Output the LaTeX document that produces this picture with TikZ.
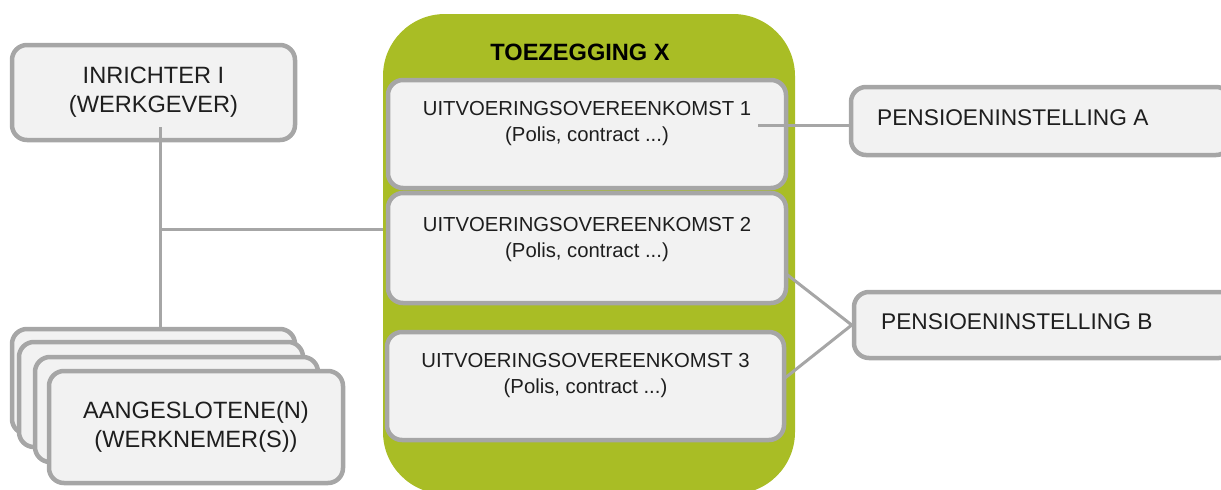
\documentclass[tikz,border=0pt]{standalone}
\usepackage{fontspec}
\setmainfont{Liberation Sans}
\definecolor{grn}{HTML}{A9BD25}
\definecolor{bgray}{HTML}{A6A6A6}
\definecolor{bfill}{HTML}{F2F2F2}
\definecolor{txt}{HTML}{1E1E1E}
\tikzset{
  box/.style={draw=bgray, line width=4.5pt, fill=bfill, rounded corners=15pt, inner sep=0pt, rectangle},
  conn/.style={draw=bgray, line width=3pt},
  bigtxt/.style={text=txt, align=center, font=\fontsize{23.6}{29}\selectfont},
  midtxt/.style={text=txt, align=center, font=\fontsize{20.3}{26}\selectfont},
  pentxt/.style={text=txt, anchor=west, inner sep=0pt, font=\fontsize{22.7}{27}\selectfont},
}
\begin{document}
\begin{tikzpicture}[x=1pt,y=-1pt]
\useasboundingbox (0,0) rectangle (1221,490);
\clip (0,0) rectangle (1221,490);
% green container
\node[fill=grn, rounded corners=62pt, minimum width=412pt, minimum height=480pt, inner sep=0pt] (tz) at (589,254) {};
\node[text=black, font=\fontsize{23.6}{28}\bfseries\selectfont] (title) at (580,52) {TOEZEGGING X};
% inner boxes
\node[box, minimum width=398pt, minimum height=108pt] (u1) at (587,134) {};
\node[box, minimum width=398pt, minimum height=110pt] (u2) at (587,248) {};
\node[box, minimum width=397pt, minimum height=108pt] (u3) at (585.5,386) {};
\node[midtxt] (t1) at (587,123.5) {UITVOERINGSOVEREENKOMST 1\\(Polis, contract ...)};
\node[midtxt] (t2) at (587,240) {UITVOERINGSOVEREENKOMST 2\\(Polis, contract ...)};
\node[midtxt] (t3) at (585.5,375.5) {UITVOERINGSOVEREENKOMST 3\\(Polis, contract ...)};
% left side
\node[box, minimum width=283pt, minimum height=95pt, bigtxt] (inr) at (153.5,92.5) {INRICHTER I\\(WERKGEVER)};
\node[box, minimum width=283pt, minimum height=105pt] (sa) at (153.5,381.5) {};
\node[box, minimum width=284pt, minimum height=105pt] (sb) at (161,394.5) {};
\node[box, minimum width=283pt, minimum height=105pt] (sc) at (176.5,409.5) {};
\node[box, minimum width=294pt, minimum height=112pt, bigtxt] (sd) at (196,427) {AANGESLOTENE(N)\\(WERKNEMER(S))};
% right side
\node[box, minimum width=380pt, minimum height=68pt] (pa) at (1041,121) {};
\node[pentxt] (pat) at (877,118) {PENSIOENINSTELLING A};
\node[box, minimum width=380pt, minimum height=66pt] (pb) at (1044,325) {};
\node[pentxt] (pbt) at (881,322) {PENSIOENINSTELLING B};
% connectors
\coordinate (vtop) at (160,127);
\coordinate (vj) at (160,229);
\coordinate (c1) at (758,125);
\coordinate (c2) at (785,273);
\coordinate (c3) at (785,378);
\draw[conn] (vtop) -- (vtop |- sa.north);
\draw[conn] (vj) -- (vj -| tz.west);
\draw[conn] (c1) -- (c1 -| pa.west);
\draw[conn] (c2) -- (pb.west);
\draw[conn] (c3) -- (pb.west);
\end{tikzpicture}
\end{document}
